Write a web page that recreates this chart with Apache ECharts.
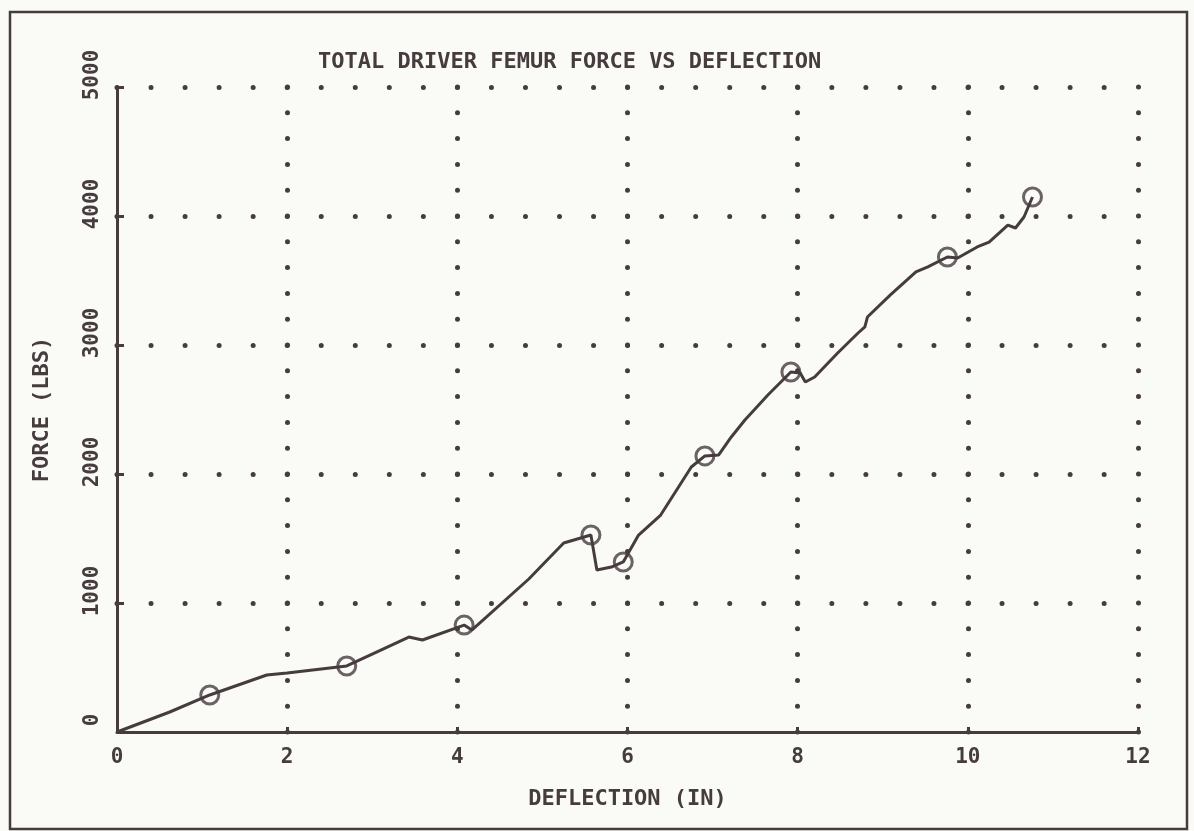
<!DOCTYPE html>
<html>
<head>
<meta charset="utf-8">
<script src="https://cdn.jsdelivr.net/npm/echarts@6/dist/echarts.min.js"></script>
<style>
html,body{margin:0;padding:0;background:#fafaf7;}
#c{width:1194px;height:831px;}
</style>
</head>
<body>
<div id="c"></div>
<script>
// Data
var titleText = 'TOTAL DRIVER FEMUR FORCE VS DEFLECTION';
var xName = 'DEFLECTION (IN)';
var yName = 'FORCE (LBS)';
var curveX = [0, 0.62, 1.09, 1.76, 2.0, 2.70, 3.05, 3.43, 3.59, 4.08, 4.17, 4.84, 5.25, 5.57, 5.64, 5.81, 5.95, 6.13, 6.39, 6.60, 6.75, 6.91, 7.07, 7.22, 7.38, 7.65, 7.92, 8.03, 8.09, 8.20, 8.47, 8.71, 8.79, 8.82, 9.09, 9.39, 9.53, 9.76, 9.88, 10.11, 10.25, 10.47, 10.56, 10.66, 10.76];
var curveY = [0, 155, 287, 442, 457, 512, 620, 736, 713, 829, 790, 1186, 1465, 1527, 1256, 1279, 1318, 1527, 1682, 1899, 2054, 2140, 2147, 2287, 2419, 2612, 2791, 2783, 2713, 2752, 2938, 3093, 3140, 3217, 3388, 3566, 3605, 3682, 3674, 3760, 3798, 3930, 3907, 3992, 4147];
var markerX = [1.09, 2.70, 4.08, 5.57, 5.95, 6.91, 7.92, 9.76, 10.76];
var markerY = [287, 512, 829, 1527, 1318, 2140, 2791, 3682, 4147];

var ink = '#463c3e';
var font = 'DejaVu Sans Mono';

var curve = curveX.map(function (x, i) { return [x, curveY[i]]; });
var markers = markerX.map(function (x, i) { return [x, markerY[i]]; });

var chart = echarts.init(document.getElementById('c'), null, {renderer: 'canvas'});
chart.setOption({
  backgroundColor: '#fafaf7',
  animation: false,
  title: {
    text: titleText,
    left: 313,
    top: 46,
    textStyle: {fontFamily: font, fontSize: 22, fontWeight: 'bold', color: ink}
  },
  grid: {left: 117, right: 56, top: 87, bottom: 99},
  graphic: [{
    type: 'rect',
    shape: {x: 10, y: 12, width: 1177, height: 817},
    style: {fill: null, stroke: ink, lineWidth: 2.5},
    silent: true
  }],
  xAxis: {
    type: 'value',
    min: 0, max: 12, interval: 2,
    name: xName,
    nameLocation: 'middle',
    nameGap: 56,
    nameTextStyle: {fontFamily: font, fontSize: 22, fontWeight: 'bold', color: ink},
    axisLine: {show: true, lineStyle: {color: ink, width: 3}},
    axisTick: {show: true, inside: true, length: 5, lineStyle: {color: ink, width: 3}},
    axisLabel: {fontFamily: font, fontSize: 21, fontWeight: 'bold', color: ink, margin: 15},
    splitLine: {
      show: true, showMinLine: false,
      lineStyle: {color: ink, width: 5, type: [0, 25.8], cap: 'round'}
    }
  },
  yAxis: {
    type: 'value',
    min: 0, max: 5000, interval: 1000,
    name: yName,
    nameLocation: 'middle',
    nameGap: 64,
    nameRotate: 90,
    nameTextStyle: {fontFamily: font, fontSize: 22, fontWeight: 'bold', color: ink},
    axisLine: {show: true, lineStyle: {color: ink, width: 3}},
    axisTick: {show: true, inside: true, length: 7, lineStyle: {color: ink, width: 3}},
    axisLabel: {
      fontFamily: font, fontSize: 21, fontWeight: 'bold', color: ink, margin: 14, rotate: 90,
      padding: [0, 0, 0, 24],
      formatter: function (v) { return String(v); }
    },
    splitLine: {
      show: true, showMinLine: false,
      lineStyle: {color: ink, width: 5, type: [0, 34.04], cap: 'round'}
    }
  },
  series: [{
    type: 'line',
    data: curve,
    showSymbol: false,
    symbol: 'none',
    smooth: false,
    lineStyle: {color: ink, width: 3},
    z: 3
  }, {
    type: 'scatter',
    data: markers,
    symbol: 'circle',
    symbolSize: 18,
    itemStyle: {color: 'rgba(0,0,0,0)', borderColor: ink, borderWidth: 3},
    z: 4
  }]
});
</script>
</body>
</html>
